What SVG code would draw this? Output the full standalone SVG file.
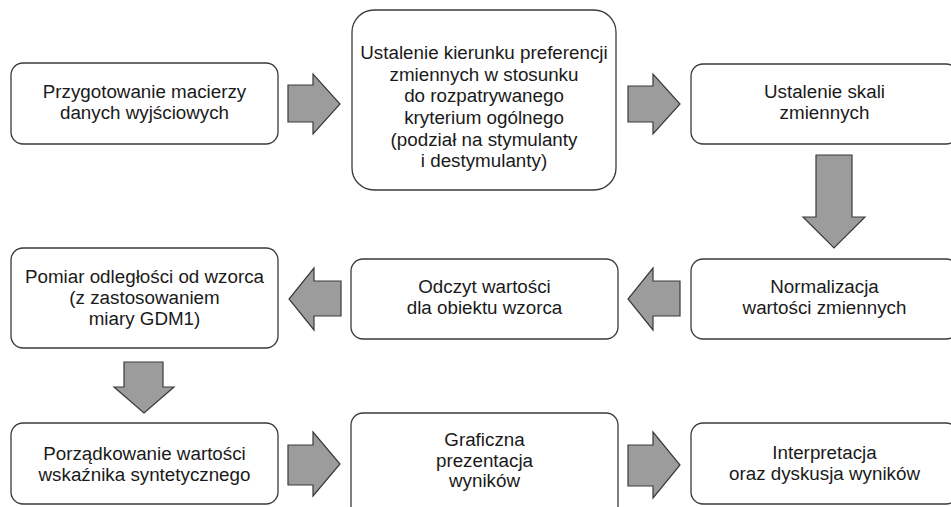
<svg xmlns="http://www.w3.org/2000/svg" width="951" height="507" viewBox="0 0 951 507">
<style>
.box{fill:#fff;stroke:#3a3a3a;stroke-width:1.3}
.arr{fill:#9c9c9c;stroke:#3a3a3a;stroke-width:1.2;stroke-linejoin:miter}
text{font-family:"Liberation Sans",Arial,sans-serif;font-size:18.8px;fill:#1a1a1a;text-anchor:middle}
</style>
<rect width="951" height="507" fill="#fff"/>
<g id="connectors">
<polygon class="arr" points="288,85 313,85 313,74 340,104 313,134 313,122 288,122"/>
<polygon class="arr" points="628,86 653,86 653,74 680,104 653,134 653,122 628,122"/>
<polygon class="arr" points="816,155 852,155 852,217 865,217 834,248 803,217 816,217"/>
<polygon class="arr" points="680,281 653,281 653,268 628,299 653,330 653,316 680,316"/>
<polygon class="arr" points="341,281 314,281 314,268 289,299 314,330 314,316 341,316"/>
<polygon class="arr" points="124,362 163,362 163,387 174,387 144,413 114,387 124,387"/>
<polygon class="arr" points="288,445 313,445 313,432 340,464 313,496 313,485 288,485"/>
<polygon class="arr" points="628,445 653,445 653,432 680,465 653,498 653,486 628,486"/>
</g>
<g id="n1">
<rect class="box" x="11" y="63" width="267" height="81" rx="12"/>
<text x="144.5" y="98">Przygotowanie macierzy</text>
<text x="144.5" y="119">danych wyjściowych</text>
</g>
<g id="n2">
<rect class="box" x="352" y="10" width="264" height="180" rx="22"/>
<text x="484" y="59">Ustalenie kierunku preferencji</text>
<text x="484" y="81">zmiennych w stosunku</text>
<text x="484" y="102">do rozpatrywanego</text>
<text x="484" y="124">kryterium ogólnego</text>
<text x="484" y="146">(podział na stymulanty</text>
<text x="484" y="167">i destymulanty)</text>
</g>
<g id="n3">
<rect class="box" x="691" y="64" width="267" height="80" rx="12"/>
<text x="824.5" y="98">Ustalenie skali</text>
<text x="824.5" y="119">zmiennych</text>
</g>
<g id="n4">
<rect class="box" x="691" y="259" width="267" height="80" rx="12"/>
<text x="824.5" y="293">Normalizacja</text>
<text x="824.5" y="314">wartości zmiennych</text>
</g>
<g id="n5">
<rect class="box" x="351" y="259" width="267" height="80" rx="12"/>
<text x="484.5" y="293">Odczyt wartości</text>
<text x="484.5" y="314">dla obiektu wzorca</text>
</g>
<g id="n6">
<rect class="box" x="11" y="248" width="267" height="100" rx="12"/>
<text x="144.5" y="283">Pomiar odległości od wzorca</text>
<text x="144.5" y="304">(z zastosowaniem</text>
<text x="144.5" y="325">miary GDM1)</text>
</g>
<g id="n7">
<rect class="box" x="11" y="423" width="267" height="81" rx="12"/>
<text x="144.5" y="460">Porządkowanie wartości</text>
<text x="144.5" y="481">wskaźnika syntetycznego</text>
</g>
<g id="n8">
<rect class="box" x="351" y="413" width="267" height="110" rx="12"/>
<text x="484.5" y="446">Graficzna</text>
<text x="484.5" y="467">prezentacja</text>
<text x="484.5" y="487">wyników</text>
</g>
<g id="n9">
<rect class="box" x="691" y="423" width="267" height="81" rx="12"/>
<text x="824.5" y="459">Interpretacja</text>
<text x="824.5" y="480">oraz dyskusja wyników</text>
</g>
</svg>
